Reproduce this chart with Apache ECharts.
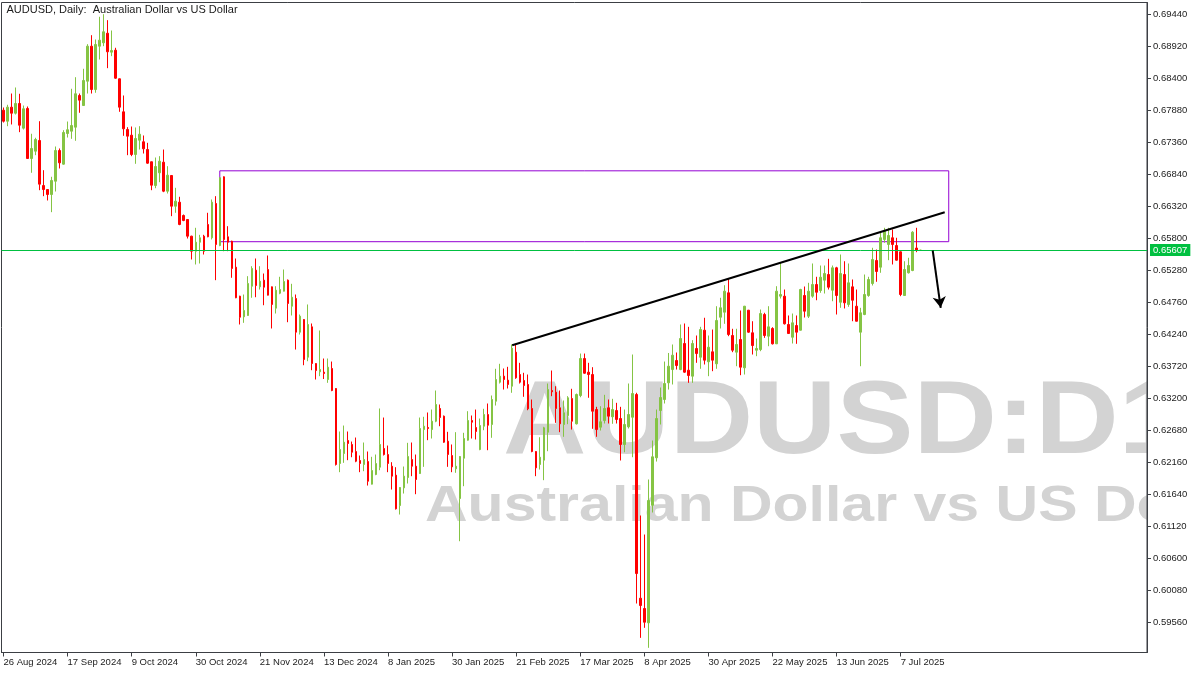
<!DOCTYPE html>
<html>
<head>
<meta charset="utf-8">
<script src="https://cdn.jsdelivr.net/npm/echarts@6/dist/echarts.min.js"></script>
<style>html,body{margin:0;padding:0;background:#fff;}#c{width:1200px;height:675px;}</style>
</head>
<body>
<div id="c"></div>
<script>
const tickLabels = ['26 Aug 2024','17 Sep 2024','9 Oct 2024','30 Oct 2024','21 Nov 2024','13 Dec 2024','8 Jan 2025','30 Jan 2025','21 Feb 2025','17 Mar 2025','8 Apr 2025','30 Apr 2025','22 May 2025','13 Jun 2025','7 Jul 2025'];
const priceTicks = [0.59560,0.60080,0.60600,0.61120,0.61640,0.62160,0.62680,0.63200,0.63720,0.64240,0.64760,0.65280,0.65800,0.66320,0.66840,0.67360,0.67880,0.68400,0.68920,0.69440];

const opens = [0.67880,0.67701,0.67929,0.67831,0.67989,0.67588,0.67908,0.67095,0.67214,0.67388,
0.66656,0.66591,0.66510,0.66726,0.67225,0.67003,0.67501,0.67539,0.67604,0.68119,
0.67956,0.68351,0.68920,0.68216,0.68920,0.68975,0.69131,0.68823,0.68855,0.68390,
0.67854,0.67566,0.67474,0.67160,0.67393,0.67367,0.67241,0.67042,0.66656,0.66863,
0.67035,0.66564,0.66819,0.66320,0.66385,0.66169,0.66104,0.65833,0.65589,0.65735,
0.65833,0.66023,0.65807,0.66364,0.65681,0.66798,0.65823,0.65751,0.65329,0.64858,
0.64523,0.64544,0.65020,0.65280,0.65010,0.65118,0.65291,0.65010,0.64663,0.64906,
0.64939,0.65118,0.64695,0.64820,0.64273,0.64479,0.63866,0.64360,0.63764,0.63629,
0.63623,0.63504,0.63683,0.63358,0.62139,0.62301,0.62513,0.62448,0.62334,0.62188,
0.62123,0.62171,0.61803,0.61960,0.62079,0.62383,0.62285,0.62095,0.61949,0.61456,
0.61744,0.61911,0.62204,0.62095,0.61976,0.62691,0.62724,0.62691,0.62826,0.63033,
0.62908,0.62501,0.62269,0.62053,0.61570,0.62225,0.62518,0.62838,0.62724,0.62366,
0.62745,0.62935,0.62773,0.63151,0.63460,0.63558,0.63493,0.63395,0.63948,0.63585,
0.63488,0.63423,0.63033,0.62334,0.62123,0.62193,0.62648,0.63325,0.63298,0.63044,
0.62773,0.62919,0.63195,0.62784,0.63244,0.63845,0.63623,0.63585,0.63016,0.62729,
0.62838,0.63044,0.62898,0.63000,0.62870,0.62448,0.62735,0.62891,0.63260,0.59950,
0.59783,0.59550,0.61461,0.62232,0.63000,0.63179,0.63450,0.63666,0.63813,0.63666,
0.64089,0.63655,0.63558,0.64008,0.63866,0.64305,0.63792,0.63954,0.63759,0.64516,
0.64598,0.64913,0.64219,0.63948,0.64154,0.63694,0.64630,0.64263,0.63980,0.63991,
0.64560,0.64208,0.64333,0.64084,0.64858,0.64858,0.64398,0.64191,0.64381,0.64305,
0.64869,0.64533,0.64858,0.65048,0.64950,0.65118,0.65210,0.64955,0.65319,0.64760,
0.65210,0.64723,0.65010,0.64695,0.64273,0.64560,0.64869,0.65064,0.65438,0.65329,
0.65779,0.65698,0.65807,0.65681,0.65579,0.64869,0.65238,0.65275,0.65640,0.65600];

const closes = [0.67701,0.67929,0.67831,0.67989,0.67636,0.67903,0.67095,0.67258,0.67404,0.66678,
0.66591,0.66510,0.66738,0.67225,0.67025,0.67518,0.67562,0.67631,0.68147,0.68043,
0.68363,0.68920,0.68216,0.68948,0.69018,0.69154,0.68829,0.68850,0.68400,0.67929,
0.67578,0.67458,0.67160,0.67420,0.67490,0.67253,0.67019,0.66661,0.66965,0.67051,
0.66564,0.66824,0.66320,0.66401,0.66023,0.66088,0.65833,0.65589,0.65735,0.65807,
0.65589,0.65823,0.66385,0.65698,0.66782,0.65779,0.65735,0.65308,0.64832,0.64516,
0.64625,0.65064,0.65308,0.65031,0.65101,0.65004,0.64874,0.64723,0.64955,0.64966,
0.65096,0.64739,0.64841,0.64273,0.64533,0.63829,0.64398,0.63764,0.63650,0.63666,
0.63601,0.63704,0.63325,0.62123,0.62366,0.62485,0.62464,0.62322,0.62176,0.62139,
0.62204,0.61851,0.62025,0.62139,0.62448,0.62285,0.62139,0.61933,0.61403,0.61749,
0.61933,0.62253,0.62095,0.61879,0.62708,0.62745,0.62708,0.62826,0.63098,0.62886,
0.62485,0.62285,0.62085,0.62095,0.62253,0.62545,0.62838,0.62810,0.62659,0.62756,
0.62935,0.62761,0.63179,0.63504,0.63558,0.63504,0.63423,0.64013,0.63532,0.63460,
0.63406,0.63028,0.62334,0.62069,0.62241,0.62719,0.63341,0.63304,0.63033,0.62784,
0.62963,0.63207,0.62826,0.63260,0.63845,0.63606,0.63585,0.62989,0.62691,0.62817,
0.63033,0.62908,0.63016,0.62854,0.62448,0.62773,0.62935,0.63276,0.60351,0.59831,
0.59560,0.61538,0.62248,0.62870,0.63211,0.63439,0.63720,0.63899,0.63731,0.64170,
0.63623,0.63569,0.64089,0.63926,0.64316,0.63818,0.64029,0.63818,0.64463,0.64669,
0.64939,0.64235,0.63980,0.64073,0.63704,0.64695,0.64273,0.64056,0.64008,0.64576,
0.64219,0.64360,0.64084,0.64939,0.64885,0.64409,0.64251,0.64425,0.64273,0.64966,
0.64614,0.64939,0.65048,0.64922,0.65166,0.65226,0.65004,0.65319,0.64869,0.65226,
0.64750,0.65075,0.64792,0.64451,0.64588,0.64885,0.65129,0.65454,0.65259,0.65807,
0.65914,0.65844,0.65698,0.65443,0.64885,0.65291,0.65356,0.65898,0.65610,0.65607];

const highs = [0.67924,0.67968,0.68151,0.68249,0.68147,0.67956,0.67940,0.67497,0.67432,0.67701,
0.66905,0.66594,0.66798,0.67290,0.67258,0.67555,0.67696,0.68228,0.68416,0.68151,
0.68553,0.68953,0.69099,0.69029,0.69398,0.69440,0.69343,0.69175,0.68894,0.68395,
0.68119,0.67604,0.67615,0.67599,0.67620,0.67469,0.67350,0.67046,0.67111,0.67133,
0.67241,0.66970,0.66825,0.66619,0.66473,0.66185,0.66110,0.65840,0.65969,0.65855,
0.65855,0.66213,0.66429,0.66483,0.66790,0.66805,0.65995,0.65760,0.65470,0.64865,
0.64885,0.65183,0.65345,0.65470,0.65345,0.65226,0.65519,0.65015,0.65020,0.65173,
0.65291,0.65129,0.65059,0.64885,0.64560,0.64485,0.64723,0.64414,0.63770,0.64300,
0.63845,0.63845,0.63796,0.63365,0.62659,0.62756,0.62659,0.62496,0.62561,0.62269,
0.62480,0.62334,0.62248,0.62285,0.63033,0.62886,0.62431,0.62160,0.62079,0.61755,
0.62090,0.62475,0.62480,0.62285,0.62886,0.62898,0.62968,0.63016,0.63325,0.63098,
0.62919,0.62654,0.62448,0.62648,0.62260,0.62638,0.62989,0.62919,0.63016,0.62870,
0.63028,0.63114,0.63244,0.63678,0.63759,0.63683,0.63710,0.64073,0.64073,0.63775,
0.63613,0.63585,0.63179,0.62340,0.62566,0.62735,0.63439,0.63650,0.63395,0.63325,
0.63163,0.63233,0.63353,0.63276,0.63926,0.63926,0.63775,0.63704,0.63060,0.63070,
0.63255,0.63179,0.63190,0.63125,0.63060,0.63016,0.63439,0.63910,0.63288,0.61294,
0.60985,0.61879,0.62513,0.63016,0.63374,0.63796,0.63935,0.64073,0.63943,0.64398,
0.64414,0.64360,0.64143,0.64219,0.64360,0.64507,0.64219,0.64316,0.64695,0.64832,
0.65036,0.65140,0.64328,0.64328,0.64625,0.64700,0.64635,0.64451,0.64170,0.64641,
0.64588,0.64695,0.64354,0.65020,0.65400,0.64966,0.64544,0.64576,0.64544,0.64978,
0.65015,0.65075,0.65389,0.65173,0.65356,0.65356,0.65465,0.65356,0.65335,0.65535,
0.65426,0.65389,0.65129,0.64966,0.64669,0.65210,0.65173,0.65644,0.65616,0.65914,
0.65969,0.65969,0.65941,0.65807,0.65585,0.65426,0.65482,0.65914,0.65969,0.65612];

const lows = [0.67680,0.67620,0.67648,0.67810,0.67523,0.67566,0.67090,0.66863,0.67149,0.66580,
0.66483,0.66413,0.66223,0.66559,0.66933,0.66995,0.67436,0.67415,0.67383,0.67838,
0.67950,0.68151,0.68151,0.68163,0.68704,0.68920,0.68563,0.68758,0.68390,0.67854,
0.67464,0.67149,0.67133,0.67009,0.67241,0.67176,0.67009,0.66580,0.66612,0.66710,
0.66548,0.66526,0.66158,0.66213,0.66011,0.66076,0.65795,0.65454,0.65373,0.65389,
0.65535,0.65815,0.65779,0.65118,0.65670,0.65589,0.65589,0.65157,0.64825,0.64398,
0.64425,0.64540,0.64832,0.64841,0.64966,0.64711,0.64870,0.64333,0.64576,0.64890,
0.64935,0.64435,0.64544,0.63991,0.64235,0.63736,0.63801,0.63655,0.63504,0.63558,
0.63512,0.63450,0.63314,0.62106,0.61998,0.62150,0.62193,0.62241,0.62160,0.61998,
0.62014,0.61781,0.61798,0.61949,0.62030,0.62269,0.61998,0.61716,0.61391,0.61310,
0.61651,0.61814,0.61933,0.61640,0.61970,0.62085,0.62518,0.62545,0.62810,0.62745,
0.62475,0.62085,0.61998,0.61988,0.60876,0.61770,0.62510,0.62545,0.62529,0.62355,
0.62680,0.62355,0.62557,0.63081,0.63439,0.63341,0.63358,0.63288,0.63515,0.63439,
0.63223,0.63005,0.62322,0.61933,0.62041,0.61868,0.62339,0.63233,0.62800,0.62648,
0.62573,0.62778,0.62691,0.62773,0.63216,0.63597,0.63207,0.62703,0.62573,0.62675,
0.62789,0.62789,0.62784,0.62789,0.62188,0.62322,0.62708,0.62241,0.59864,0.59306,
0.59469,0.59144,0.61343,0.62171,0.62773,0.63114,0.63341,0.63423,0.63666,0.63655,
0.63613,0.63450,0.63450,0.63775,0.63678,0.63748,0.63558,0.63639,0.63678,0.64333,
0.64409,0.64208,0.63948,0.63720,0.63574,0.63585,0.64263,0.63910,0.63883,0.63964,
0.64181,0.64045,0.64073,0.64080,0.64820,0.64398,0.64246,0.64089,0.64084,0.64300,
0.64511,0.64503,0.64832,0.64792,0.64913,0.64901,0.64966,0.64776,0.64560,0.64669,
0.64658,0.64685,0.64451,0.64447,0.63720,0.64549,0.64848,0.65031,0.65092,0.65238,
0.65725,0.65443,0.65373,0.65436,0.64858,0.64862,0.65226,0.65264,0.65573,0.65596];

const bidPrice = 0.65607;
const zoneTop = 0.66895, zoneBottom = 0.65743, zoneStart = 54, zoneEnd = 236;
const trendStart = [127, 0.64061], trendEnd = [235, 0.66223];
const arrowStart = [232, 0.65600], arrowEnd = [234, 0.64669];
const slotCount = 286;

const categories = [];
for (let i = 0; i < slotCount; i++) categories.push(String(i));
const candleData = opens.map((o, i) => [o, closes[i], lows[i], highs[i]]);

const FONT = '"Liberation Sans", Arial, sans-serif';
const frame = '#3c3f44';
const bull = '#85C444';
const bear = '#FF0000';

const chart = echarts.init(document.getElementById('c'), null, {renderer: 'canvas'});
chart.setOption({
  backgroundColor: '#ffffff',
  animation: false,
  grid: {left: 1.5, right: 53, top: 2.5, bottom: 22.5, show: true, borderColor: frame, borderWidth: 1, containLabel: false},
  xAxis: {
    type: 'category', data: categories, boundaryGap: true,
    axisLine: {show: true, lineStyle: {color: frame, width: 1}},
    axisTick: {show: true, alignWithLabel: true, length: 4, lineStyle: {color: frame},
      interval: (i) => i % 16 === 0 && i / 16 < tickLabels.length},
    axisLabel: {show: true, align: 'left', margin: 5, fontSize: 9.5, fontFamily: FONT, color: '#222',
      interval: (i) => i % 16 === 0 && i / 16 < tickLabels.length,
      formatter: (v, i) => (i % 16 === 0 && tickLabels[i / 16]) ? tickLabels[i / 16] : ''},
    splitLine: {show: false}
  },
  yAxis: {
    type: 'value', position: 'right', min: 0.59068, max: 0.69630, scale: true,
    axisLine: {show: true, lineStyle: {color: frame, width: 1}},
    axisTick: {show: true, length: 4, lineStyle: {color: frame}, customValues: priceTicks},
    axisLabel: {show: true, margin: 6, fontSize: 9.5, fontFamily: FONT, color: '#222',
      customValues: priceTicks, formatter: (v) => v.toFixed(5)},
    splitLine: {show: false}
  },
  graphic: [
    {type: 'text', z: -10, x: 503, y: 424, scaleX: 1.11,
      style: {text: 'AUDUSD:D1', font: 'bold 104px ' + FONT, fill: '#D3D3D3', align: 'left', verticalAlign: 'middle'}},
    {type: 'text', z: -10, x: 425, y: 507, scaleX: 1.18,
      style: {text: 'Australian Dollar vs US Dollar', font: 'bold 50px ' + FONT, fill: '#D3D3D3', align: 'left', verticalAlign: 'middle'}},
    {type: 'rect', z: -5, shape: {x: 1148, y: 0, width: 60, height: 675}, style: {fill: '#ffffff'}},
    {type: 'text', z: 10, x: 6.5, y: 9.5,
      style: {text: 'AUDUSD, Daily:  Australian Dollar vs US Dollar', font: '11px ' + FONT, fill: '#1a1a1a', align: 'left', verticalAlign: 'middle'}}
  ],
  series: [{
    type: 'candlestick',
    data: candleData,
    barWidth: 2,
    clip: true,
    itemStyle: {color: bull, color0: bear, borderColor: bull, borderColor0: bear, borderColorDoji: bull, borderWidth: 1},
    markArea: {
      silent: true,
      itemStyle: {color: 'rgba(0,0,0,0)', borderColor: '#9400D3', borderWidth: 1},
      data: [[{coord: [zoneStart, zoneTop]}, {coord: [zoneEnd, zoneBottom]}]]
    },
    markLine: {
      silent: true, symbol: ['none', 'none'], animation: false, precision: 5,
      label: {show: false},
      data: [
        {yAxis: bidPrice, lineStyle: {color: '#00C040', width: 1, type: 'solid'},
          label: {show: true, position: 'end', distance: 3, formatter: bidPrice.toFixed(5), backgroundColor: '#00C040',
            color: '#ffffff', fontSize: 9.5, fontFamily: FONT, padding: [1, 3, 1, 3]}},
        [{coord: trendStart, symbol: 'none', lineStyle: {color: '#000000', width: 2, type: 'solid'}},
         {coord: trendEnd, symbol: 'none'}],
        [{coord: arrowStart, symbol: 'none', lineStyle: {color: '#000000', width: 2, type: 'solid'}},
         {coord: arrowEnd, symbol: 'arrow', symbolSize: [10, 11]}]
      ]
    }
  }]
});
</script>
</body>
</html>
